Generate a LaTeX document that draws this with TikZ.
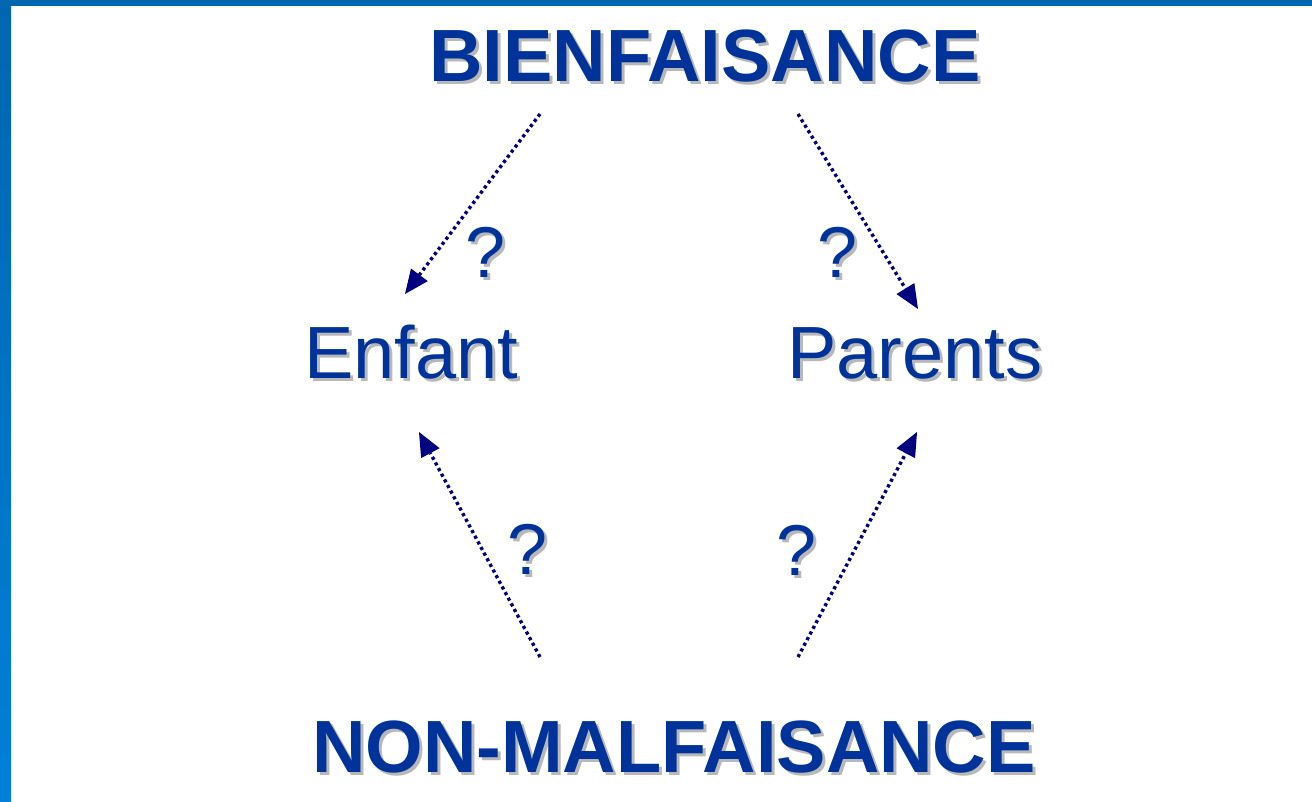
\documentclass[tikz,border=0pt]{standalone}
\usepackage{fontspec}
\setmainfont{Liberation Sans}
\usetikzlibrary{arrows.meta}
\definecolor{txtblue}{HTML}{003399}
\definecolor{shgray}{HTML}{B8B8B8}
\definecolor{arrnavy}{HTML}{000080}
\definecolor{bartop}{HTML}{0066B0}
\definecolor{barbot}{HTML}{0080D8}
\newcommand\shtxt[1]{\makebox[0pt][l]{\kern3pt\raisebox{-3pt}{\color{shgray}#1}}#1}
\begin{document}
\begin{tikzpicture}[x=1pt,y=-1pt,
  lbl/.style={inner sep=0pt,anchor=base,text=txtblue,font=\fontsize{74}{80}\selectfont},
  title/.style={lbl,font=\fontsize{74}{80}\selectfont\bfseries},
  qm/.style={lbl,font=\fontsize{72}{80}\selectfont},
  dotarrow/.style={draw=arrnavy,line width=3.4pt,dash pattern=on 3.2pt off 3.2pt,
    -{Triangle[length=24pt,width=21pt,fill=arrnavy,line width=0pt]}}]
\useasboundingbox (0,0) rectangle (1312,801);
\fill[white] (0,0) rectangle (1312,801);
\shade[top color=bartop,bottom color=barbot] (0,0) rectangle (11,801);
\fill[bartop] (0,0) rectangle (1312,6);
\node[title] (bien) at (705,81) {\shtxt{BIENFAISANCE}};
\node[title] (nonmal) at (674,772) {\shtxt{NON-MALFAISANCE}};
\node[lbl] (enfant) at (411,378) {\shtxt{Enfant}};
\node[lbl] (parents) at (915,378) {\shtxt{Parents}};
\node[qm] (q1) at (486,277) {\shtxt{?}};
\node[qm] (q2) at (838,277) {\shtxt{?}};
\node[qm] (q3) at (528,574) {\shtxt{?}};
\node[qm] (q4) at (797,575) {\shtxt{?}};
\coordinate (s1) at (540,114); \coordinate (t1) at (405,294);
\coordinate (s2) at (798,114); \coordinate (t2) at (918,309);
\coordinate (s3) at (540,657); \coordinate (t3) at (419,432);
\coordinate (s4) at (798,657); \coordinate (t4) at (917,432);
\draw[dotarrow] (s1) -- (t1);
\draw[dotarrow] (s2) -- (t2);
\draw[dotarrow] (s3) -- (t3);
\draw[dotarrow] (s4) -- (t4);
\end{tikzpicture}
\end{document}
